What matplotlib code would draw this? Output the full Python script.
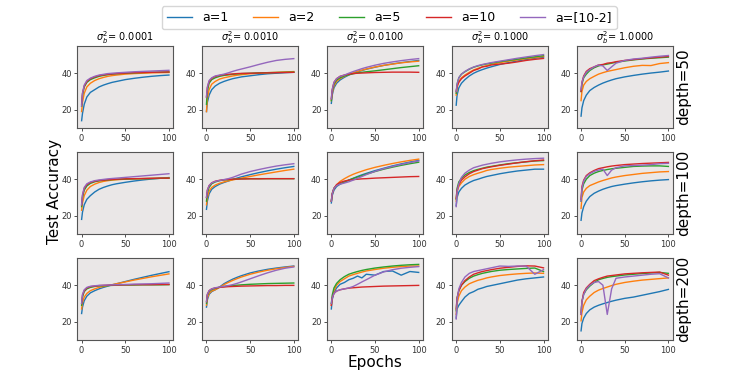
import numpy as np
import matplotlib.pyplot as plt

epochs = [0, 1, 3, 6, 10, 15, 20, 25, 30, 35, 40, 50, 60, 70, 80, 90, 100]

labels = ['a=1', 'a=2', 'a=5', 'a=10', 'a=[10-2]']
colors = ['#1f77b4', '#ff7f0e', '#2ca02c', '#d62728', '#9467bd']
sigmas = ['0.0001', '0.0010', '0.0100', '0.1000', '1.0000']
depths = ['depth=50', 'depth=100', 'depth=200']

# depth 50
d50_s1 = [
    [14, 18, 23, 27, 29.5, 31, 32.5, 33.5, 34.3, 35, 35.5, 36.5, 37.2, 37.8, 38.3, 38.7, 39],
    [19, 24, 29, 32.5, 34.5, 36, 37, 37.7, 38.3, 38.7, 39, 39.5, 39.8, 40, 40.2, 40.3, 40.4],
    [22, 28, 32.5, 35, 36.5, 37.5, 38.3, 38.8, 39.2, 39.5, 39.7, 40, 40.2, 40.4, 40.5, 40.6, 40.7],
    [23, 29, 33, 35.5, 37, 38, 38.7, 39.1, 39.4, 39.6, 39.8, 40.1, 40.3, 40.4, 40.5, 40.6, 40.7],
    [22, 29, 33.5, 36, 37.3, 38.3, 39, 39.4, 39.8, 40, 40.2, 40.5, 40.8, 41, 41.2, 41.4, 41.6],
]
d50_s2 = [
    [19, 24, 28, 31, 33, 34.5, 35.5, 36.3, 37, 37.5, 38, 38.6, 39.2, 39.7, 40, 40.3, 40.5],
    [19, 26, 31, 34, 35.5, 36.8, 37.5, 38, 38.5, 38.9, 39.2, 39.7, 40, 40.3, 40.5, 40.7, 40.9],
    [23, 30, 34.5, 36.5, 37.5, 38.3, 38.8, 39.1, 39.4, 39.6, 39.8, 40, 40.2, 40.3, 40.4, 40.5, 40.6],
    [27, 32, 35.5, 37.2, 38.2, 38.8, 39.2, 39.4, 39.6, 39.8, 39.9, 40, 40.1, 40.2, 40.3, 40.4, 40.5],
    [27, 32.5, 36, 37.5, 38.5, 39, 39.5, 40.2, 41, 41.7, 42.3, 43.5, 44.8, 46, 47, 47.6, 48],
]
d50_s3 = [
    [23.5, 28, 32, 34.5, 36.3, 37.8, 39, 40, 40.8, 41.5, 42.2, 43.3, 44.3, 45.1, 45.8, 46.4, 47],
    [25, 29, 33, 35.5, 37, 38.3, 39.3, 40.2, 41, 41.7, 42.3, 43.4, 44.3, 45, 45.7, 46.2, 46.6],
    [25, 30, 34, 36.3, 37.5, 38.5, 39.2, 39.7, 40.2, 40.5, 40.8, 41.3, 41.9, 42.5, 43.1, 43.6, 44.1],
    [26, 31, 35, 37, 38.3, 39, 39.5, 39.8, 40, 40.1, 40.2, 40.4, 40.5, 40.6, 40.6, 40.6, 40.5],
    [26, 31, 35, 37, 38.3, 39, 40, 40.9, 41.7, 42.5, 43.2, 44.4, 45.4, 46.2, 46.9, 47.5, 48],
]
d50_s4 = [
    [22.5, 28, 32, 34.5, 36.5, 38.5, 40, 41.1, 42, 42.8, 43.5, 44.8, 45.8, 46.7, 47.5, 48.2, 48.8],
    [28, 32, 35.5, 37.5, 39, 40.5, 41.8, 42.7, 43.5, 44.2, 44.8, 45.8, 46.6, 47.3, 48, 48.6, 49.2],
    [29, 34, 37.5, 39.5, 40.8, 42.2, 43.3, 44, 44.6, 45.1, 45.5, 46.3, 47, 47.7, 48.4, 49, 49.6],
    [30, 33, 35, 37, 38.5, 40, 41.5, 42.3, 43.5, 43.8, 44.5, 45, 45.5, 46.2, 47, 47.6, 48.1],
    [30, 34, 37.5, 39.5, 41, 42.4, 43.4, 44.2, 44.8, 45.3, 45.8, 46.6, 47.4, 48.2, 48.9, 49.6, 50.2],
]
d50_s5 = [
    [16.5, 21, 25, 28, 30.5, 32.2, 33.5, 34.6, 35.5, 36.3, 37, 38, 38.8, 39.5, 40.1, 40.6, 41.2],
    [25, 30, 33.5, 35.5, 37, 38.3, 39.5, 40.3, 41, 41.5, 42, 43, 43.8, 44.3, 44.2, 45.3, 45.8],
    [30, 34, 37.5, 39.5, 41.5, 43, 44, 44.6, 45, 45.5, 46, 46.7, 47.3, 47.8, 48.2, 48.5, 48.8],
    [30, 35, 38.5, 41, 42.5, 43.5, 44.5, 44.8, 45.5, 45.8, 46.3, 47, 47.5, 48, 48.4, 48.8, 49.2],
    [31, 35, 38, 40.5, 42, 43.5, 44.5, 44, 41.5, 43.5, 45.5, 47, 47.8, 48.2, 48.8, 49.3, 49.7],
]

# depth 100
d100_s1 = [
    [18, 22, 26, 29, 31, 33, 34.5, 35.5, 36.3, 37, 37.5, 38.3, 39, 39.6, 40.1, 40.5, 40.9],
    [23, 27, 31, 34, 36, 37.3, 38.2, 38.8, 39.2, 39.5, 39.7, 40, 40.2, 40.3, 40.4, 40.5, 40.6],
    [25, 30, 34, 36.3, 37.7, 38.6, 39.1, 39.4, 39.6, 39.8, 39.9, 40.1, 40.2, 40.3, 40.4, 40.5, 40.6],
    [26, 31, 35, 37, 38.2, 38.9, 39.3, 39.5, 39.7, 39.9, 40, 40.2, 40.3, 40.4, 40.5, 40.6, 40.6],
    [26, 31.5, 35.5, 37.5, 38.5, 39.2, 39.6, 39.9, 40.2, 40.4, 40.6, 41, 41.4, 41.8, 42.2, 42.6, 43],
]
d100_s2 = [
    [23.5, 28, 32, 34.5, 36, 37.3, 38.2, 39, 39.8, 40.6, 41.3, 42.5, 43.6, 44.6, 45.5, 46.3, 47],
    [26, 30, 33.5, 35.5, 36.8, 37.8, 38.5, 39.1, 39.6, 40.1, 40.6, 41.5, 42.4, 43.2, 44, 44.8, 45.5],
    [28, 32.5, 35.5, 37.5, 38.5, 39.2, 39.6, 39.8, 40, 40.1, 40.2, 40.3, 40.3, 40.3, 40.3, 40.3, 40.3],
    [30, 34, 36.5, 38, 38.9, 39.4, 39.7, 39.9, 40, 40.1, 40.1, 40.2, 40.2, 40.3, 40.3, 40.3, 40.3],
    [30, 34, 36.5, 38, 38.8, 39.3, 39.8, 40.3, 41, 41.9, 42.8, 44.2, 45.3, 46.3, 47.2, 47.9, 48.5],
]
d100_s3 = [
    [27, 31, 34, 36, 37.3, 38.4, 39.5, 40.5, 41.5, 42.4, 43.2, 44.7, 46, 47.3, 48.4, 49.4, 50.3],
    [28, 32, 35, 37, 38.8, 40.3, 41.6, 42.7, 43.6, 44.4, 45.2, 46.5, 47.6, 48.6, 49.5, 50.3, 51],
    [28, 32, 35, 36.5, 37.5, 38.5, 39.5, 40.4, 41.2, 42, 42.8, 44.2, 45.5, 46.6, 47.6, 48.5, 49.3],
    [28, 32, 35, 37, 38.2, 39, 39.5, 39.8, 40, 40.2, 40.3, 40.6, 40.8, 41, 41.2, 41.4, 41.5],
    [28, 32, 35, 36.5, 37.3, 37.9, 38.6, 39.5, 40.5, 41.5, 42.5, 44.3, 45.8, 47, 48.1, 49.1, 50],
]
d100_s4 = [
    [25.5, 30, 33, 35, 36.8, 38.2, 39.3, 40, 40.8, 41.5, 42, 43, 43.8, 44.5, 45, 45.5, 45.5],
    [28, 33, 36, 38, 40, 41.5, 42.5, 43.3, 44, 44.8, 45.3, 46, 46.6, 47, 47.4, 47.8, 48],
    [29, 35, 38.5, 40.5, 42.3, 43.7, 44.7, 45.4, 46, 46.6, 47, 47.8, 48.5, 49, 49.5, 50, 50.2],
    [29.5, 34, 37, 39.5, 41.3, 43, 44.2, 45, 45.8, 46.3, 46.8, 47.6, 48.3, 49, 49.6, 50.1, 50.5],
    [25, 33, 37.5, 41, 43.3, 45, 46.3, 47, 47.7, 48.2, 48.7, 49.5, 50.1, 50.6, 51, 51.3, 51.5],
]
d100_s5 = [
    [17.5, 21.5, 25, 28, 30.5, 32.3, 33.5, 34.5, 35.3, 36, 36.5, 37.3, 38, 38.6, 39.1, 39.5, 39.8],
    [24, 30, 33, 35, 36.5, 37.5, 38.5, 39.3, 40, 40.7, 41.2, 42, 42.6, 43.2, 43.6, 44, 44.2],
    [28, 34, 37.5, 40, 42, 43.3, 44.2, 44.8, 45.3, 45.7, 46, 46.5, 47, 47.2, 47.3, 47.3, 47],
    [29, 36, 39.5, 42, 43.5, 44.8, 45.8, 46.3, 46.8, 47.2, 47.5, 48, 48.3, 48.6, 48.8, 49, 49.2],
    [28, 35, 39, 41.5, 43, 44.3, 45, 45.5, 42, 45, 46.3, 47.3, 47.5, 47.7, 48, 48.5, 48.7],
]

# depth 200
d200_s1 = [
    [24.5, 28, 31.5, 34, 35.8, 37, 38, 38.8, 39.5, 40.2, 40.8, 42, 43.2, 44.3, 45.4, 46.4, 47.4],
    [27, 30.5, 33.5, 35.5, 37, 38, 38.8, 39.3, 39.8, 40.3, 40.8, 41.8, 42.8, 43.7, 44.6, 45.4, 46.2],
    [29, 33.5, 36.5, 38, 38.8, 39.3, 39.6, 39.7, 39.8, 39.9, 40, 40.1, 40.1, 40.2, 40.2, 40.2, 40.3],
    [30, 34.5, 37, 38.5, 39.2, 39.5, 39.8, 39.9, 40, 40.1, 40.1, 40.2, 40.3, 40.3, 40.3, 40.4, 40.4],
    [30, 35, 37.5, 38.8, 39.4, 39.7, 39.9, 40, 40.1, 40.2, 40.3, 40.4, 40.6, 40.7, 40.8, 41, 41.2],
]
d200_s2 = [
    [28, 32, 35, 36.5, 37.5, 39, 40.8, 42.1, 43.3, 44.3, 45.2, 46.7, 47.8, 48.7, 49.4, 50, 50.5],
    [29, 33, 35.5, 36.8, 37.5, 38.8, 40.3, 41.5, 42.6, 43.6, 44.5, 46, 47.2, 48.2, 49, 49.7, 50.3],
    [30, 34.5, 36.5, 37.6, 38.3, 38.9, 39.3, 39.6, 39.8, 40, 40.2, 40.5, 40.7, 40.9, 41, 41.1, 41.2],
    [31, 35, 37, 38, 38.5, 38.8, 39, 39.2, 39.3, 39.4, 39.5, 39.6, 39.7, 39.8, 39.8, 39.9, 39.9],
    [31, 35, 37, 38, 38.6, 39, 39.4, 39.8, 40.3, 41, 41.8, 43.5, 45.2, 46.8, 48.2, 49.3, 50],
]
d200_s3 = [
    [27, 32, 36, 38.5, 40.5, 41.5, 43, 43.8, 45, 44, 46, 45.5, 47.5, 47.8, 45.5, 47.5, 47],
    [29, 33, 37, 40, 42, 43.5, 45, 45.8, 46.5, 47.2, 47.8, 48.6, 49.3, 49.8, 50.2, 50.5, 50.5],
    [30, 34.5, 38.5, 41, 43, 44.7, 46, 46.8, 47.5, 48.1, 48.6, 49.4, 50, 50.5, 50.9, 51.2, 51.4],
    [29, 33, 35.5, 36.8, 37.5, 38, 38.4, 38.6, 38.8, 39, 39.1, 39.3, 39.5, 39.6, 39.7, 39.8, 39.9],
    [30, 33, 35.5, 36.8, 37.5, 38, 38.5, 39.3, 40.5, 41.8, 43, 45.5, 47.3, 48.5, 49.3, 49.8, 50.2],
]
d200_s4 = [
    [22, 27, 29, 31, 33.5, 35.5, 36.5, 37.8, 38.5, 39.3, 39.8, 40.8, 41.8, 42.8, 43.5, 44, 44.5],
    [24, 30, 34, 37, 39, 40.8, 41.8, 42.7, 43.3, 44, 44.5, 45.3, 45.8, 46.2, 46.5, 46.7, 46.5],
    [26, 33, 37, 40, 42, 43.8, 45, 45.8, 46.5, 47, 47.5, 48.2, 48.6, 48.9, 49.2, 49.4, 47.5],
    [27, 33, 37, 40, 42.5, 44.5, 46, 46.8, 47.5, 48, 48.5, 49.3, 49.8, 50.3, 50.6, 50.5, 49.5],
    [21.5, 32, 38, 41.5, 44.5, 46.5, 47.5, 48, 48.5, 49, 49.5, 50.5, 50.3, 50.5, 50.5, 46, 48.5],
]
d200_s5 = [
    [15, 19, 22, 24.5, 26.5, 28, 29, 29.8, 30.5, 31.2, 31.8, 32.8, 33.5, 34.5, 35.5, 36.5, 37.7],
    [20.5, 25, 29, 32, 34, 36, 37.3, 38.2, 39, 39.8, 40.5, 41.5, 42.2, 42.8, 43.2, 43.6, 44],
    [25, 31, 35, 37.5, 39.5, 41.5, 43, 43.7, 44.3, 44.7, 45, 45.6, 46, 46.4, 46.7, 47, 46.5],
    [24, 31, 36, 38.5, 40.5, 42.5, 43.5, 44.3, 45, 45.3, 45.6, 46.2, 46.5, 46.8, 47, 47.2, 45.5],
    [24, 31, 35, 38, 40, 41.5, 42, 40, 24, 38, 43.8, 44.5, 45, 45.5, 46, 46.3, 44],
]

grid = [
    [d50_s1, d50_s2, d50_s3, d50_s4, d50_s5],
    [d100_s1, d100_s2, d100_s3, d100_s4, d100_s5],
    [d200_s1, d200_s2, d200_s3, d200_s4, d200_s5],
]

fig, axes = plt.subplots(3, 5, figsize=(7.5, 3.82), dpi=100, sharey=True)
fig.subplots_adjust(left=0.103, right=0.897, top=0.88, bottom=0.11,
                    wspace=0.30, hspace=0.29)

for r in range(3):
    for c in range(5):
        ax = axes[r, c]
        ax.set_facecolor('#eae7e7')
        for curve, col, lab in zip(grid[r][c], colors, labels):
            ax.plot(epochs, curve, color=col, lw=1.0, label=lab)
        ax.set_ylim(10, 55)
        ax.set_xticks([0, 50, 100])
        ax.set_yticks([20, 40])
        ax.tick_params(labelsize=6, length=2.5, width=0.6, pad=1.5, colors='#333333')
        for sp in ax.spines.values():
            sp.set_color('#555555')
            sp.set_linewidth(0.8)
        ax.yaxis.set_tick_params(labelleft=True)
        if r == 0:
            ax.set_title(r'$\sigma_b^2$= ' + sigmas[c], fontsize=7, pad=3)
        if c == 4:
            ax.text(1.115, 0.5, depths[r], transform=ax.transAxes, rotation=90,
                    ha='center', va='center', fontsize=11)

handles, hl = axes[0, 0].get_legend_handles_labels()
fig.legend(handles, hl, loc='upper center', bbox_to_anchor=(0.519, 1.0), ncol=5,
           fontsize=9, frameon=True, handlelength=2.0, columnspacing=2.0)

fig.text(0.073, 0.5, 'Test Accuracy', rotation=90, ha='center', va='center', fontsize=11)
fig.text(0.5, 0.05, 'Epochs', ha='center', va='center', fontsize=11)

plt.savefig('out.png', dpi=100)
